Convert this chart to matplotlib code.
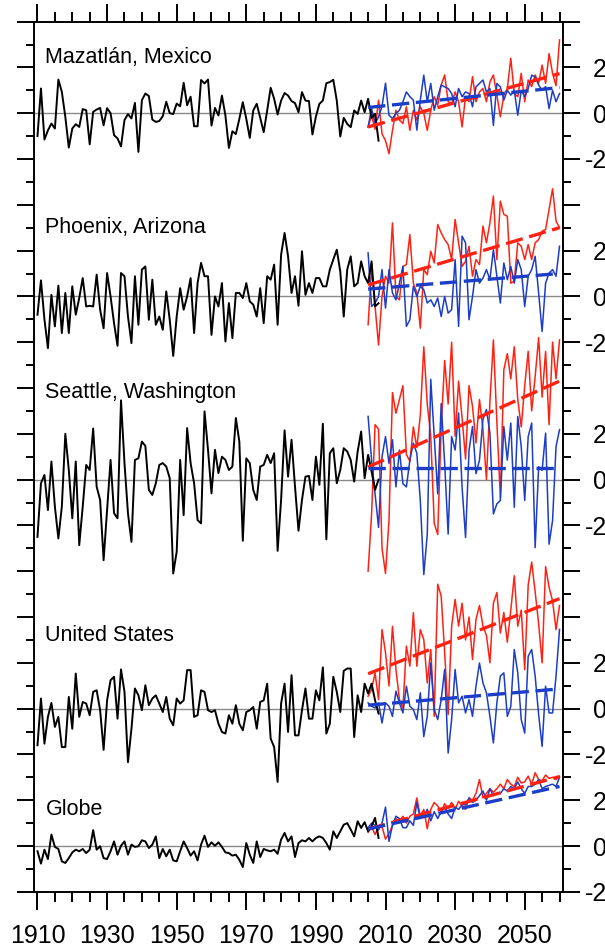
import numpy as np
import matplotlib
matplotlib.use('Agg')
import matplotlib.pyplot as plt

plt.rcParams['font.family'] = ['Liberation Sans', 'DejaVu Sans']

# years
obs_years = np.arange(1910, 2009)
proj_years = np.arange(2005, 2061)

# ---------------- observed anomalies (black) ----------------
maz_obs = [-1.0, 1.08, -1.15, -0.75, -0.45, -0.67, 1.47, 0.93, -0.16, -1.5,
           -0.67, -0.48, -0.6, 0.18, 0.13, -1.36, 0.06, 0.16, 0.23, -0.53,
           0.22, 0.0, -0.96, -1.1, -1.45, -0.3, -0.04, -0.23, 0.45, -1.69,
           0.57, 0.86, 0.75, -0.28, -0.38, -0.34, -0.13, 0.5, 0.0, -0.04,
           0.42, 0.3, 1.33, 0.35, 0.72, -0.57, -0.57, 1.45, 1.3, 1.47,
           -0.54, 0.23, -0.10, 0.77, -0.10, -1.52, -0.79, -0.91, -0.25, 0.48,
           -0.25, -1.08, 0.12, 0.41, -0.20, -0.83, 0.12, 1.11, 0.63, -0.06,
           0.55, 0.88, 0.77, 0.53, 0.44, 0.04, 0.92, 0.55, 0.53, -0.93,
           -0.15, 0.41, 0.55, 1.31, 1.36, 1.46, 0.55, -1.02, -0.20, -0.47,
           -0.61, 0.12, -0.03, 0.55, 0.04, 0.63, -0.20, -0.03, -1.20]
phx_obs = [-0.8, 0.7, -1.0, -2.26, 0.07, -1.31, 0.47, -1.6, 0.15, -1.6,
           0.44, -0.8, -0.07, 0.8, -0.44, -0.41, -0.44, 0.95, -0.58, -1.39,
           1.02, 0.0, -1.17, -2.16, 1.02, 0.88, -0.88, -2.04, 0.88, -1.24,
           1.17, 1.31, -1.02, 0.73, -1.24, -0.88, -1.46, 0.22, -1.02, -2.6,
           -0.88, 0.36, -0.58, 0.0, 0.8, -1.6, 0.58, 1.46, 0.88, 0.88,
           -1.68, 0.0, -0.44, 0.58, -1.97, -0.29, -1.82, 0.15, 0.15, -0.07,
           0.58, -0.22, -0.36, -0.88, 0.36, -1.17, 0.88, 0.73, 1.39, -1.24,
           1.82, 2.77, 1.75, 0.15, 0.88, -0.41, 1.97, 0.07, 0.58, 0.15,
           0.8, 0.8, 0.44, 0.44, 1.17, 1.61, 2.04, 1.09, -0.88, 1.17,
           1.75, 0.44, 0.58, 1.53, 0.88, 0.58, 1.53, -0.44, -0.3]
sea_obs = [-2.5, -0.16, 0.2, -1.33, 0.79, -1.18, -2.57, -1.18, 2.0, 0.42,
           -1.69, 0.79, -2.86, -1.18, 0.64, 0.42, 2.23, -0.31, -0.89, -3.52,
           -1.33, 0.86, -1.47, -1.69, 3.46, 0.72, -1.47, -2.72, 0.86, 0.93,
           1.66, 1.47, -0.45, -0.67, -0.16, 0.64, 0.72, 0.57, 0.06, -4.1,
           -3.15, 0.86, -1.55, 2.25, 0.72, -0.16, -1.77, -1.91, 2.98, 1.3,
           -0.6, 1.3, 0.28, 1.0, 0.86, 0.42, 0.57, 2.69, 1.66, -2.67,
           0.93, 0.72, -0.45, -0.89, 0.57, 0.64, 1.08, 0.72, 1.15, -3.11,
           -0.89, 2.15, 0.13, 1.74, -0.31, -2.23, -0.89, 0.13, 0.16, -0.89,
           1.0, -0.23, 2.44, -2.61, 1.15, 1.37, -0.16, 0.42, 1.37, 1.23,
           0.86, -0.09, 1.23, 2.1, 0.06, 1.08, 0.35, -0.45, 0.0]
us_obs = [-1.6, 0.44, -1.53, -0.36, 0.25, -0.8, -0.36, -1.68, -1.68, 0.51,
          -0.88, 1.53, -0.36, 0.29, 0.22, -0.29, 0.73, 0.8, -0.07, -1.8,
          0.36, 1.24, 1.39, -0.44, 1.71, 0.73, -2.34, -0.88, 0.88, 0.58,
          -0.07, 1.02, 0.15, 0.44, 0.58, 0.22, -0.15, 0.51, -0.44, -0.73,
          0.44, 0.22, 0.36, 1.68, 1.68, -0.36, -0.29, 0.8, 0.73, -0.07,
          -0.15, -0.07, -0.66, -1.02, -1.09, -0.29, -0.66, 0.15, -0.66, -0.95,
          -0.15, -0.07, 0.07, -0.88, 0.29, 0.36, 1.09, -1.31, -1.68, -3.2,
          0.22, 1.09, -1.02, 1.46, -1.17, -1.17, -0.07, 0.88, -0.44, -0.44,
          0.8, 0.36, 1.8, -1.09, -0.66, 1.39, 0.73, -0.15, 1.65, 1.75,
          1.75, -1.24, 0.58, -0.15, 1.09, 0.66, 1.09, 0.36, -0.22]
glb_obs = [-0.23, -0.77, -0.16, -0.57, 0.5, -0.04, -0.13, -0.67, -0.74, -0.53,
           -0.28, -0.16, -0.23, -0.13, -0.31, -0.16, 0.69, -0.16, -0.01, -0.53,
           -0.57, -0.23, 0.2, -0.38, 0.01, 0.2, -0.38, 0.06, -0.04, -0.01,
           0.25, 0.2, -0.09, 0.06, 0.42, -0.53, -0.13, -0.45, -0.16, -0.63,
           -0.67, -0.23, 0.2, -0.09, -0.42, -0.23, -0.63, 0.06, 0.45, -0.04,
           0.16, 0.01, 0.16, -0.04, -0.28, -0.31, -0.42, -0.38, -0.6, -0.92,
           0.13, -0.38, -0.74, 0.2, -0.48, -0.13, -0.19, -0.23, -0.16, -0.34,
           0.28, 0.57, 0.2, 0.42, -0.48, 0.13, 0.25, 0.2, 0.35, 0.2,
           0.35, 0.42, 0.35, 0.13, -0.16, 0.64, 0.35, 0.64, 0.93, 1.0,
           0.72, 0.42, 1.08, 0.79, 1.04, 0.64, 0.86, 1.23, 0.35]

# ---------------- projections: red (high emissions), blue (low) ----------------
maz_red = [-0.6, -0.1, -0.7, 0.57, -0.9, -1.2, -1.77, -0.75, 0.13, -0.3,
           -0.45, 0.28, -0.75, 0.13, -0.3, 0.28, 0.0, -0.75, 0.13, 0.72,
           0.35, 1.23, 1.67, 0.5, 0.42, 0.93, 0.5, -0.6, 0.72, 0.5,
           1.6, 0.5, 0.93, 1.08, 0.5, 1.37, 1.67, 0.79, -0.16, 0.79,
           1.08, 2.4, 0.86, 0.72, 1.74, 0.5, 1.45, 1.16, 1.67, 1.3,
           2.1, 1.3, 2.6, 1.74, 1.2, 3.2]
maz_blue = [-0.6, 0.2, -0.45, -0.16, 0.3, 1.31, -0.09, -0.23, -0.01, 0.13,
            0.5, 0.93, 0.72, 0.57, -0.74, 0.57, 1.66, 0.5, 1.3, 0.13,
            0.72, 1.23, 1.15, 1.08, 0.86, 0.28, 1.08, 0.72, 0.93, 0.86,
            0.28, 1.15, 1.3, 1.45, 0.93, 1.08, -0.53, 1.3, 1.15, 0.57,
            1.0, 0.79, 1.0, -0.09, 1.0, 0.72, 1.08, 1.66, 1.59, 1.23,
            1.0, 1.16, 0.2, 1.0, 0.5, 0.86]
phx_red = [-1.24, 1.24, -0.44, -2.12, 0.0, 0.88, 0.58, 3.21, 0.0, -0.15,
           1.31, 1.39, 2.7, 0.58, 0.15, -1.39, 1.17, 0.95, 1.97, 1.46,
           3.14, 2.77, 2.48, 2.26, 1.61, 3.36, 2.34, 1.31, 1.53, 2.19,
           0.88, 1.61, 1.39, 3.07, 2.34, 3.21, 4.38, 1.61, 4.16, 3.58,
           3.5, 0.58, 0.66, 2.34, 2.19, 1.61, 2.26, 1.61, 2.34, 2.48,
           2.85, 2.92, 3.8, 4.7, 3.29, 3.0]
phx_blue = [1.9, -0.44, -0.29, 0.0, 1.17, -0.51, 1.17, 0.15, -0.15, 0.58,
            1.31, -1.31, -1.02, 0.44, 0.0, 0.44, 0.29, -0.29, -0.15, -0.44,
            -0.07, -0.88, 0.0, -0.73, -0.58, 1.61, -1.31, 2.63, 2.34, -1.02,
            0.0, 1.17, 0.58, 0.8, 1.17, 0.73, 2.04, 0.88, -0.29, 1.46,
            0.73, 1.31, 0.58, 1.61, 1.17, -0.44, 0.88, 1.17, 1.75, 0.15,
            -1.53, 0.58, 1.02, 1.17, 0.88, 2.19]
sea_red = [-4.0, -1.5, 2.4, 2.2, -3.0, -4.1, -1.8, 3.8, 2.9, 3.5,
           4.1, 1.1, 0.8, 2.3, 1.4, 2.8, 5.8, 3.3, 1.9, -1.9,
           -2.4, 2.3, 5.2, 3.3, 6.0, 1.9, 4.3, 2.7, 0.9, 4.1,
           3.2, 1.6, 3.5, 2.2, 0.0, 3.4, 6.1, 2.5, -0.8, 4.8,
           5.5, 4.4, 5.8, 3.5, 2.3, 4.1, 5.6, 3.0, 4.5, 6.2,
           3.6, 5.6, 2.4, 6.0, 4.4, 6.1]
sea_blue = [2.76, 0.85, -0.62, -2.09, 1.0, 1.88, 0.71, 1.74, -0.32, 1.29,
            -0.18, -0.32, 0.85, 1.59, 1.15, -0.91, -4.15, -2.38, 4.38, 1.88,
            -0.62, 3.32, 0.71, -2.38, 1.88, 1.29, 2.91, -0.32, -2.53, 1.29,
            2.32, 0.26, 0.85, 2.62, 3.06, 2.03, -1.5, -1.06, -0.91, 2.32,
            0.85, 2.47, -1.21, 2.76, 1.44, -0.91, 1.88, 2.47, -2.97, 0.56,
            0.41, 2.03, -2.82, -1.79, 1.44, 2.18]
us_red = [0.54, 0.83, 1.56, 0.39, 3.45, 2.44, 0.99, 3.59, 1.71, 0.39,
          0.03, 2.73, 1.85, 4.19, 1.85, 3.45, 3.01, 1.12, 2.58, -0.34,
          5.43, 4.91, 2.44, -0.26, 3.6, 4.77, 3.6, 4.6, 3.0, 4.0,
          2.15, 3.9, 4.5, 3.6, 3.2, 2.0, 4.6, 5.07, 3.3, 4.2,
          2.9, 4.3, 5.8, 3.6, 4.3, 1.7, 5.4, 6.4, 5.1, 3.7,
          2.0, 6.2, 5.3, 4.7, 3.45, 4.5]
us_blue = [0.25, 0.1, 0.03, 0.25, -0.63, 0.25, 0.1, -0.34, 0.76, 0.25,
           -0.19, 0.98, 0.1, -0.04, -0.48, 0.69, -1.22, -0.34, 1.99, -0.04,
           -0.48, 0.39, 1.71, -1.94, -0.48, 1.71, 0.25, 0.54, -0.19, 0.39,
           -0.34, 0.98, 1.99, 1.12, 0.69, -0.34, -1.5, 0.25, 1.42, 1.56,
           -0.34, 0.1, 2.58, 1.56, -0.48, -1.07, 2.29, 2.58, 1.42, -0.26,
           -1.65, 0.98, -0.19, -0.19, 1.42, 3.46]
glb_red = [0.6, 0.85, 0.5, 0.85, 0.85, 0.3, 0.55, 0.9, 1.2, 1.1,
           1.3, 1.0, 1.3, 1.4, 2.1, 1.3, 1.6, 0.75, 1.6, 1.9,
           1.75, 1.5, 1.85, 1.65, 1.9, 1.6, 1.95, 1.75, 1.6, 2.1,
           2.0, 2.3, 2.9, 2.1, 2.3, 2.5, 2.35, 2.5, 2.7, 2.5,
           2.9, 2.7, 2.6, 3.0, 2.75, 2.8, 3.05, 2.7, 3.2, 2.9,
           2.85, 3.1, 2.95, 3.0, 2.9, 3.05]
glb_blue = [0.8, 1.0, 0.9, 0.7, 1.0, 1.7, 0.2, 0.9, 1.3, 1.2,
            0.8, 0.8, 1.1, 0.9, 1.9, 1.2, 1.3, 1.6, 1.1, 1.5,
            1.2, 1.5, 1.7, 1.4, 1.2, 1.7, 1.6, 1.8, 1.8, 2.1,
            1.9, 2.0, 2.2, 2.4, 2.0, 2.5, 2.2, 2.3, 2.3, 2.5,
            2.4, 2.6, 2.5, 2.8, 2.5, 2.3, 2.6, 2.6, 2.7, 2.9,
            2.5, 2.6, 2.65, 2.7, 2.6, 3.0]

# trend line end points (2005, 2060)
maz_trend = [[-0.6, 1.73], [0.25, 1.12]]
phx_trend = [[0.5, 3.0], [0.32, 1.0]]
sea_trend = [[0.55, 4.3], [0.49, 0.49]]
us_trend = [[1.52, 4.8], [0.15, 0.86]]
glb_trend = [[0.74, 3.03], [0.74, 2.6]]

names = ['Mazatlán, Mexico', 'Phoenix, Arizona', 'Seattle, Washington',
         'United States', 'Globe']

# ---------------- layout ----------------
offsets = [32, 24, 16, 6, 0]
label_y = [34.45, 27.0, 19.8, 9.2, 1.6]

panels = [(maz_obs, maz_red, maz_blue, maz_trend),
          (phx_obs, phx_red, phx_blue, phx_trend),
          (sea_obs, sea_red, sea_blue, sea_trend),
          (us_obs, us_red, us_blue, us_trend),
          (glb_obs, glb_red, glb_blue, glb_trend)]

red = '#ff2213'
blue = '#1c3dc6'

fig = plt.figure(figsize=(6.05, 9.51), dpi=100)
ax = fig.add_axes([34/605, 59.2/951, 529/605, 870.2/951])

for i, (obs, r, b, tr) in enumerate(panels):
    off = offsets[i]
    ax.axhline(off, color='#8a8a8a', lw=1.0, zorder=1)
    ax.plot(proj_years, np.array(r) + off, color=red, lw=1.1, zorder=2)
    ax.plot(proj_years, np.array(b) + off, color=blue, lw=1.1, zorder=3)
    ax.plot(obs_years, np.array(obs) + off, color='black', lw=1.4, zorder=4)
    ends = [proj_years[0], proj_years[-1]]
    ax.plot(ends, np.array(tr[0]) + off, color=red, lw=2.4,
            dashes=(5.2, 2), zorder=5)
    ax.plot(ends, np.array(tr[1]) + off, color=blue, lw=2.4,
            dashes=(5.2, 2), zorder=6)
    ax.text(1912.3, label_y[i], names[i], fontsize=15.5, ha='left',
            va='center', zorder=7)

ax.set_xlim(1909, 2061)
ax.set_ylim(-2, 36)

ax.set_xticks(np.arange(1910, 2051, 20))
ax.set_xticks(np.arange(1910, 2061, 5), minor=True)
ax.tick_params(axis='x', which='both', direction='out', top=True,
               bottom=True, width=1.4, labelsize=18, pad=10.5)
ax.tick_params(axis='x', which='major', length=13)
ax.tick_params(axis='x', which='minor', length=7)

# right-hand labels: each panel gets its own 2 / 0 / -2
ytick_pos = np.arange(-2, 37, 2)
ytick_lab = []
for v in ytick_pos:
    lab = ''
    for off in offsets:
        if v - off in (-2, 0, 2):
            lab = str(int(v - off))
            break
    ytick_lab.append(lab)
ax.set_yticks(ytick_pos)
ax.set_yticklabels(ytick_lab)
ax.set_yticks(np.arange(-1, 36, 2), minor=True)
ax.tick_params(axis='y', which='both', direction='out', left=True,
               right=True, labelleft=False, labelright=True, width=1.4,
               labelsize=18)
ax.tick_params(axis='y', which='major', length=12, pad=19.5)
ax.tick_params(axis='y', which='minor', length=6)
for t in ax.get_yticklabels():
    t.set_horizontalalignment('right')

for s in ax.spines.values():
    s.set_linewidth(1.4)

fig.savefig('out.png', dpi=100)
